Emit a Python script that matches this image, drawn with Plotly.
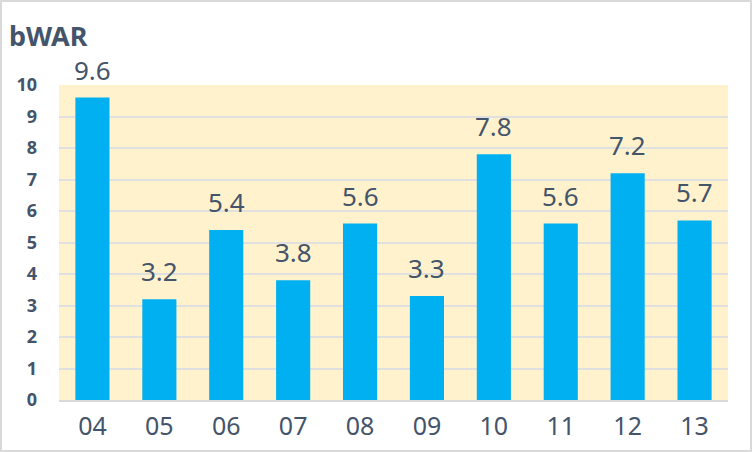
import plotly.graph_objects as go

categories = ["04", "05", "06", "07", "08", "09", "10", "11", "12", "13"]
bwar = [9.6, 3.2, 5.4, 3.8, 5.6, 3.3, 7.8, 5.6, 7.2, 5.7]
y_ticks = [0, 1, 2, 3, 4, 5, 6, 7, 8, 9, 10]

text_color = "#44546A"

W, H = 752, 452
ML, MR, MT, MB = 59, 24, 85, 52
PW, PH = W - ML - MR, H - MT - MB

fig = go.Figure()
fig.add_trace(go.Bar(
    x=categories, y=bwar,
    marker=dict(color="#00B0F0", line=dict(width=0)),
    hoverinfo="x+y",
))

# category axis: annotation x given as category index
for i, v in enumerate(bwar):
    fig.add_annotation(x=i, y=v, text=f"{v:.1f}", showarrow=False,
                       yanchor="bottom", yshift=8,
                       font=dict(size=26, color=text_color, family="Noto Sans"))

fig.update_layout(
    width=W, height=H,
    margin=dict(l=ML, r=MR, t=MT, b=MB, autoexpand=False),
    paper_bgcolor="white",
    plot_bgcolor="#FFF2CC",
    bargap=0.49,
    showlegend=False,
    font=dict(family="Noto Sans", color=text_color),
    title=dict(text="<b>bWAR</b>", x=9 / W, xanchor="left", y=1 - 37 / H, yanchor="middle",
               font=dict(size=27, color=text_color, family="Noto Sans")),
)
fig.update_xaxes(
    type="category",
    tickfont=dict(size=25, color=text_color),
    showline=True, linecolor="#D9D9D9", linewidth=2,
    ticks="", showgrid=False, ticklabelstandoff=3, automargin=False,
)
fig.update_yaxes(
    range=[0, 10], tickvals=y_ticks,
    tickfont=dict(size=18, color=text_color, weight="bold"),
    showgrid=True, gridcolor="#E0E0E0", gridwidth=2,
    zeroline=False, ticks="", showline=False, ticklabelstandoff=21, automargin=False,
)
fig.add_shape(type="rect", xref="paper", yref="paper",
              x0=-(ML - 1) / PW, x1=1 + (MR - 1) / PW,
              y0=-(MB - 1) / PH, y1=1 + (MT - 1) / PH,
              line=dict(color="#D9D9D9", width=2), layer="above")

fig.write_html("out.html", config=dict(displayModeBar=False),
               post_script="document.body.style.margin='0';document.body.style.overflow='hidden';")
